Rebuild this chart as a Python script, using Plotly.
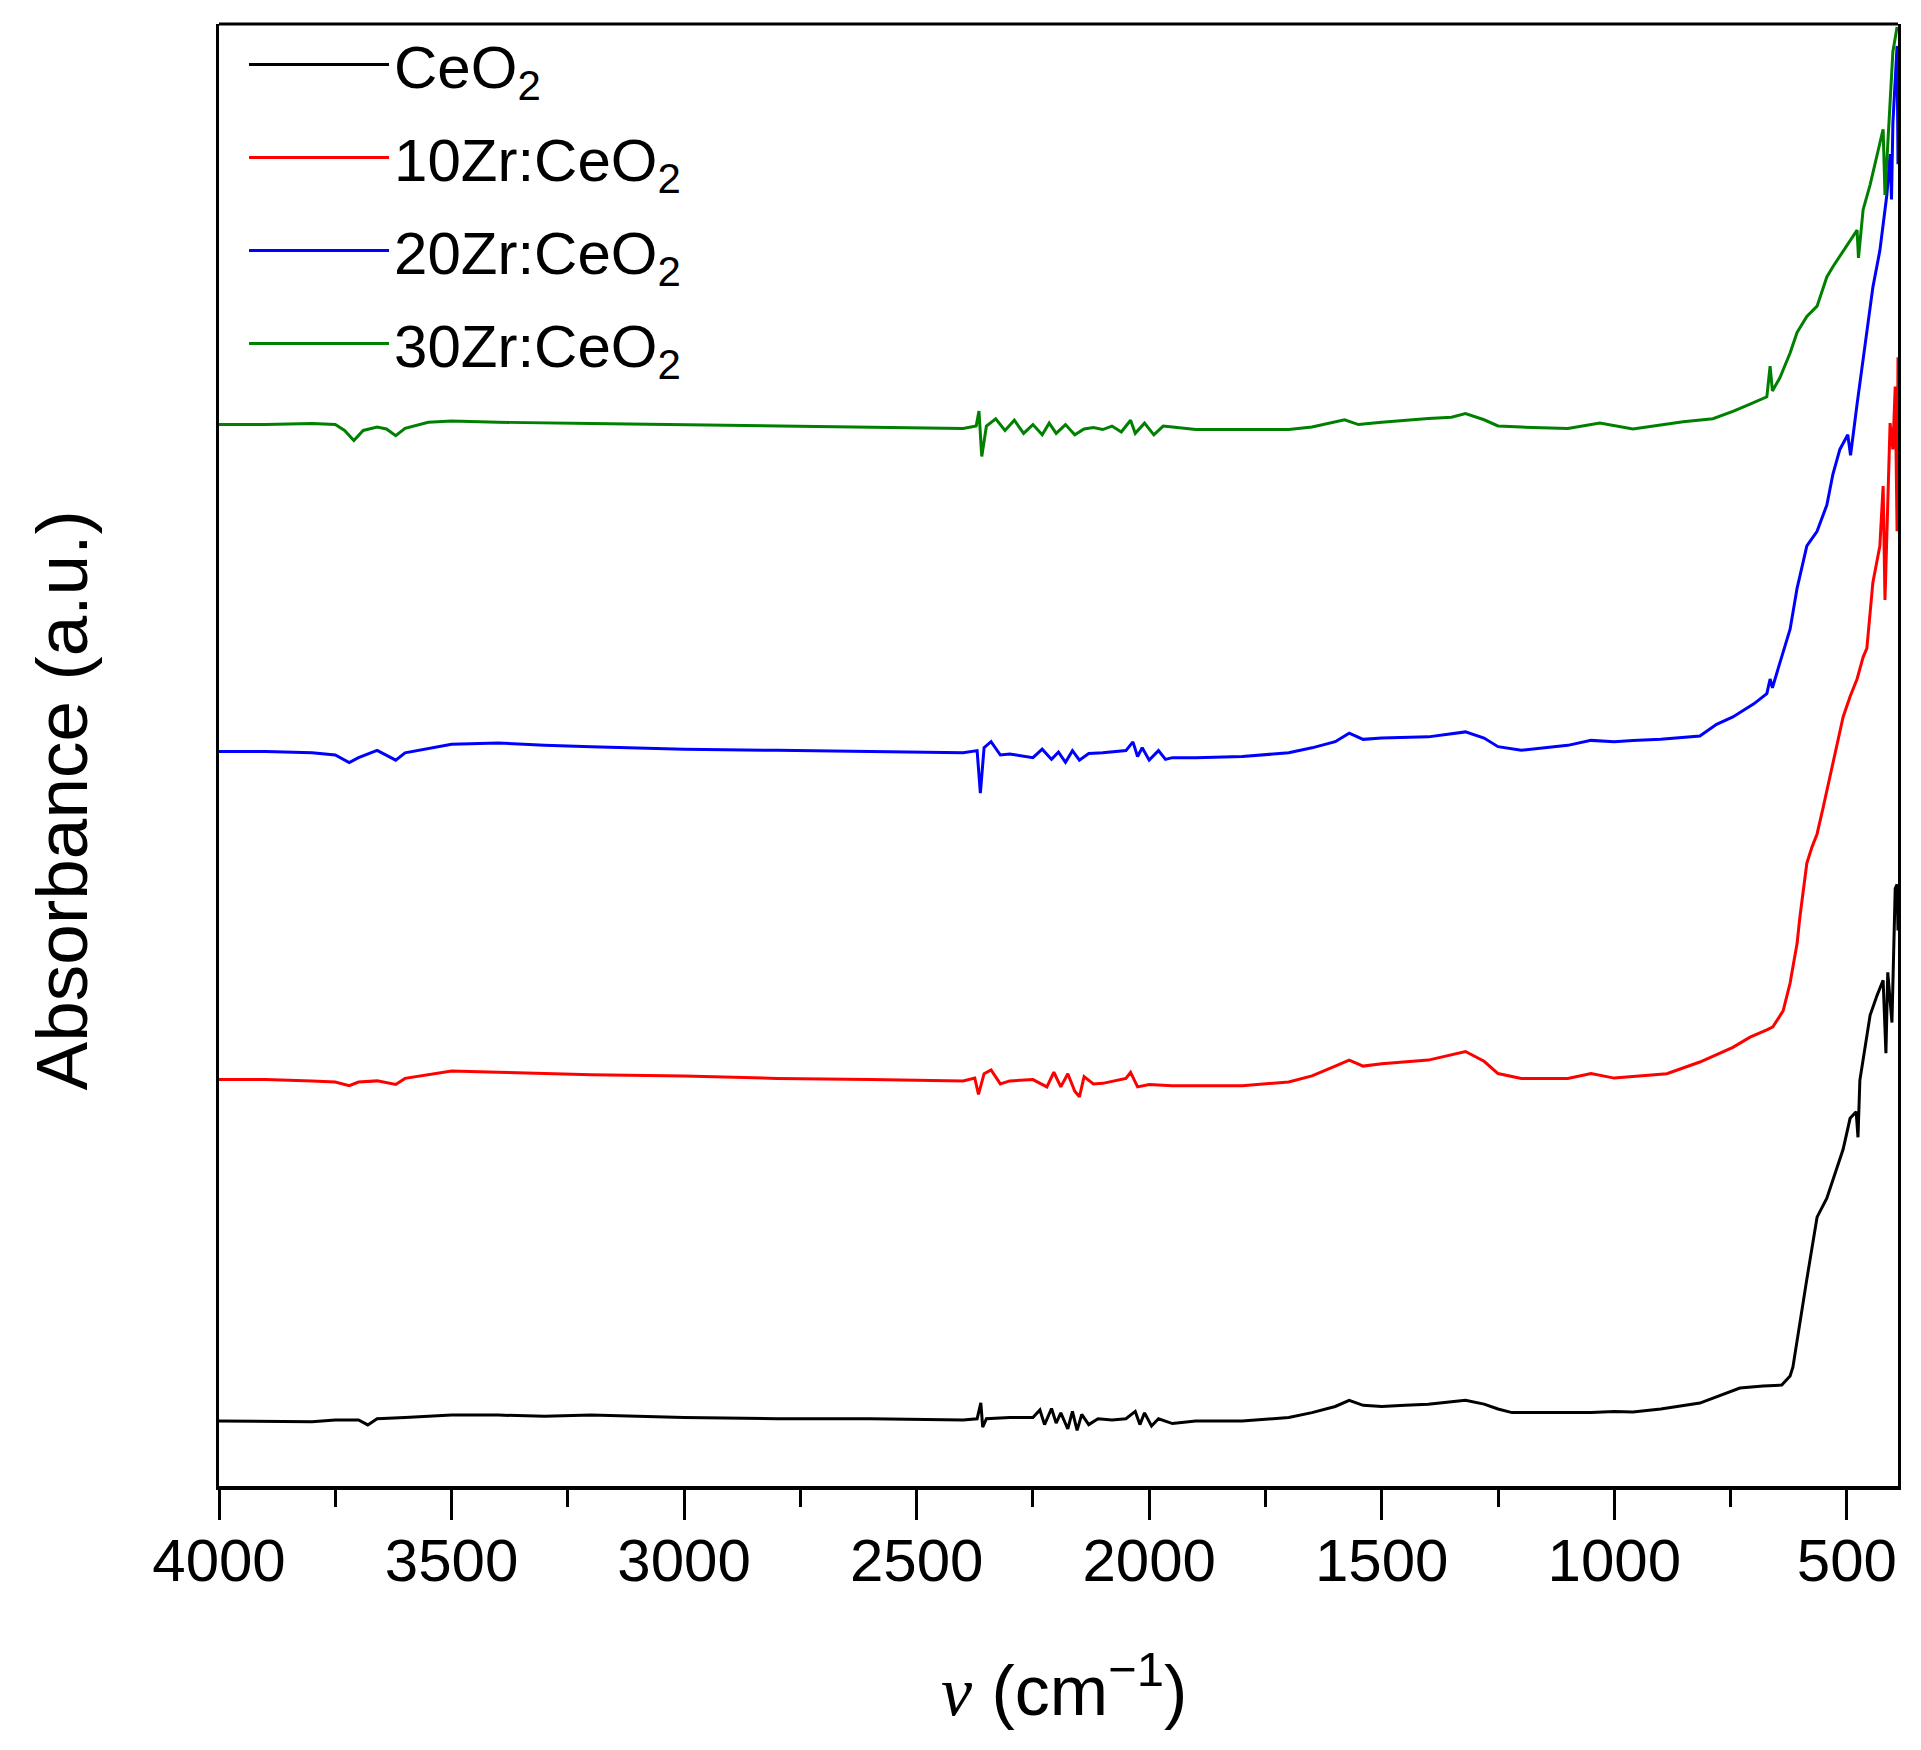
import plotly.graph_objects as go

# ---------------- data (wavenumber cm^-1, absorbance a.u.) ----------------
wn_ceo2 = [4000, 3900, 3800, 3750, 3700, 3680, 3660, 3600, 3500, 3400, 3300, 3200, 3100, 3000,
           2800, 2600, 2400, 2370, 2362, 2358, 2350, 2300, 2250, 2235, 2225, 2210, 2200, 2190,
           2175, 2165, 2155, 2145, 2130, 2110, 2080, 2050, 2030, 2020, 2010, 1995, 1980, 1950,
           1900, 1800, 1700, 1650, 1600, 1570, 1540, 1500, 1450, 1400, 1350, 1320, 1280, 1250,
           1220, 1150, 1050, 1000, 960, 900, 816, 730, 680, 640, 622, 616, 601, 586, 575, 564,
           543, 530, 508, 493, 480, 476, 472, 450, 435, 422, 416, 412, 403, 396, 392, 390]
abs_ceo2 = [4.44, 4.44, 4.40, 4.52, 4.52, 4.18, 4.60, 4.69, 4.85, 4.85, 4.77, 4.85, 4.77, 4.69,
            4.60, 4.60, 4.52, 4.60, 5.69, 4.02, 4.60, 4.69, 4.69, 5.20, 4.20, 5.30, 4.30, 5.00,
            3.90, 5.10, 3.80, 4.90, 4.20, 4.60, 4.52, 4.60, 5.10, 4.20, 5.00, 4.10, 4.60, 4.27,
            4.44, 4.44, 4.69, 5.02, 5.44, 5.86, 5.52, 5.44, 5.52, 5.60, 5.77, 5.86, 5.60, 5.27,
            5.02, 5.02, 5.02, 5.10, 5.06, 5.27, 5.67, 6.70, 6.84, 6.90, 7.52, 8.13, 11.28, 14.15,
            16.27, 18.39, 19.69, 20.98, 23.03, 25.15, 25.60, 23.85, 27.75, 32.19, 33.56, 34.59,
            29.60, 35.13, 31.70, 40.87, 41.15, 38.00]

wn_10zr = [4000, 3900, 3800, 3750, 3720, 3700, 3660, 3620, 3600, 3500, 3400, 3200, 3000, 2800,
           2600, 2400, 2375, 2367, 2355, 2340, 2320, 2300, 2250, 2220, 2205, 2190, 2175, 2160,
           2150, 2140, 2120, 2100, 2050, 2040, 2025, 2000, 1950, 1800, 1700, 1650, 1600, 1570,
           1540, 1500, 1400, 1320, 1280, 1250, 1200, 1100, 1050, 1000, 887, 816, 745, 708, 672,
           659, 637, 622, 616, 607, 601, 594, 586, 575, 564, 551, 536, 521, 508, 493, 478, 465,
           457, 444, 429, 422, 418, 407, 401, 396, 392, 390]
abs_10zr = [27.80, 27.80, 27.71, 27.63, 27.38, 27.63, 27.71, 27.46, 27.88, 28.38, 28.30, 28.13,
            28.05, 27.88, 27.80, 27.71, 27.90, 26.79, 28.20, 28.46, 27.50, 27.71, 27.80, 27.30,
            28.30, 27.30, 28.20, 27.00, 26.62, 28.00, 27.50, 27.54, 27.88, 28.30, 27.30, 27.46,
            27.38, 27.38, 27.63, 28.05, 28.72, 29.13, 28.72, 28.88, 29.13, 29.72, 29.05, 28.21,
            27.88, 27.88, 28.21, 27.90, 28.20, 29.00, 30.00, 30.70, 31.20, 31.40, 32.50, 34.40,
            35.50, 37.10, 38.90, 40.70, 42.60, 43.70, 44.60, 46.40, 48.50, 50.80, 52.60, 54.00,
            55.20, 56.70, 57.30, 61.80, 64.30, 68.40, 60.60, 72.70, 70.90, 75.20, 65.30, 77.20]

wn_20zr = [4000, 3900, 3800, 3750, 3720, 3700, 3660, 3620, 3600, 3500, 3400, 3300, 3200, 3000,
           2800, 2600, 2400, 2370, 2363, 2355, 2340, 2320, 2300, 2250, 2230, 2210, 2195, 2180,
           2165, 2150, 2130, 2100, 2050, 2035, 2025, 2015, 2000, 1980, 1965, 1950, 1900, 1800,
           1700, 1650, 1600, 1570, 1540, 1500, 1400, 1320, 1280, 1250, 1200, 1100, 1050, 1000,
           960, 900, 816, 780, 745, 700, 672, 665, 660, 644, 622, 607, 586, 564, 543, 530, 515,
           498, 492, 478, 465, 457, 444, 429, 414, 407, 404, 401, 392, 390]
abs_20zr = [50.24, 50.24, 50.15, 50.00, 49.48, 49.82, 50.32, 49.65, 50.15, 50.74, 50.82, 50.66,
            50.57, 50.40, 50.32, 50.24, 50.15, 50.30, 47.39, 50.50, 50.91, 50.00, 50.07, 49.82,
            50.40, 49.70, 50.20, 49.50, 50.30, 49.65, 50.10, 50.15, 50.30, 50.90, 49.90, 50.50,
            49.65, 50.30, 49.70, 49.82, 49.82, 49.90, 50.15, 50.49, 50.91, 51.49, 51.07, 51.16,
            51.24, 51.58, 51.16, 50.57, 50.32, 50.66, 51.00, 50.91, 51.00, 51.07, 51.30, 52.10,
            52.60, 53.50, 54.20, 55.20, 54.60, 56.30, 58.60, 61.40, 64.30, 65.30, 67.10, 69.20,
            70.90, 71.90, 70.50, 74.00, 77.20, 78.90, 82.00, 84.50, 88.30, 91.10, 88.00, 93.20,
            98.50, 90.40]

wn_30zr = [4000, 3900, 3800, 3750, 3730, 3710, 3690, 3660, 3640, 3620, 3600, 3550, 3500, 3400,
           3200, 3000, 2800, 2600, 2400, 2372, 2366, 2360, 2350, 2330, 2310, 2290, 2270, 2250,
           2230, 2215, 2200, 2180, 2160, 2140, 2120, 2100, 2080, 2060, 2040, 2030, 2010, 1990,
           1970, 1950, 1900, 1800, 1700, 1650, 1600, 1580, 1550, 1500, 1400, 1350, 1320, 1280,
           1250, 1200, 1100, 1031, 960, 900, 852, 788, 745, 708, 672, 665, 660, 644, 622, 607,
           586, 564, 543, 530, 500, 478, 475, 465, 450, 435, 422, 418, 407, 401, 392]
abs_30zr = [72.60, 72.60, 72.68, 72.60, 72.20, 71.51, 72.20, 72.43, 72.30, 71.84, 72.34, 72.76,
            72.85, 72.76, 72.68, 72.60, 72.51, 72.43, 72.34, 72.50, 73.52, 70.42, 72.50, 73.00,
            72.20, 72.90, 72.00, 72.60, 71.90, 72.70, 72.00, 72.60, 71.90, 72.30, 72.40, 72.26,
            72.50, 72.10, 72.90, 72.00, 72.70, 71.90, 72.50, 72.43, 72.26, 72.26, 72.26, 72.43,
            72.76, 72.93, 72.60, 72.76, 73.01, 73.10, 73.35, 72.93, 72.51, 72.43, 72.34, 72.70,
            72.30, 72.60, 72.80, 73.00, 73.50, 74.00, 74.50, 76.60, 74.90, 75.80, 77.50, 78.90,
            80.00, 80.70, 82.70, 83.40, 84.80, 85.90, 84.00, 87.30, 89.00, 91.10, 92.80, 88.30,
            94.60, 98.10, 99.80]

series_names = ["CeO<sub>2</sub>", "10Zr:CeO<sub>2</sub>", "20Zr:CeO<sub>2</sub>", "30Zr:CeO<sub>2</sub>"]
series_colors = ["#000000", "#FF0000", "#0000FF", "#008000"]
x_ticks = [4000, 3500, 3000, 2500, 2000, 1500, 1000, 500]
x_minor = [3750, 3250, 2750, 2250, 1750, 1250, 750]

FONT = "Liberation Sans, Arial, sans-serif"

fig = go.Figure()
for i, (wn, ab, name, col) in enumerate(zip([wn_ceo2, wn_10zr, wn_20zr, wn_30zr],
                                            [abs_ceo2, abs_10zr, abs_20zr, abs_30zr],
                                            series_names, series_colors)):
    fig.add_trace(go.Scatter(x=wn, y=ab, mode="lines", name=name, legendgroup=f"g{i}",
                             line=dict(color=col, width=3)))

fig.update_layout(
    width=1913, height=1742,
    margin=dict(l=211, r=23, t=15, b=264),
    paper_bgcolor="white", plot_bgcolor="white",
    font=dict(family=FONT, color="black"),
    showlegend=True,
    legend=dict(x=0.0149, y=1.0028, xanchor="left", yanchor="top",
                font=dict(size=60, family=FONT, color="black"),
                bgcolor="rgba(0,0,0,0)", itemwidth=140, tracegroupgap=12),
    xaxis=dict(range=[4000, 390], tickmode="array", tickvals=x_ticks,
               ticktext=[str(t) for t in x_ticks],
               showgrid=False, zeroline=False,
               showline=True, linecolor="black", linewidth=4,
               ticks="outside", ticklen=30, tickwidth=3, tickcolor="black",
               ticklabelstandoff=-11,
               tickfont=dict(size=60, family=FONT, color="black"),
               minor=dict(tickvals=x_minor,
                          ticks="outside", ticklen=17, tickwidth=3, tickcolor="black")),
    yaxis=dict(range=[0, 100], showticklabels=False, ticks="",
               showgrid=False, zeroline=False,
               showline=True, linecolor="black", linewidth=3, mirror=True),
)

# top frame edge
fig.add_shape(type="line", xref="paper", yref="paper", x0=0, x1=1, y0=1, y1=1,
              line=dict(color="black", width=3))

# axis titles
fig.add_annotation(xref="paper", yref="paper", x=0.503, y=-0.137, yanchor="middle",
                   text="<span style='font-family:Liberation Serif, Times New Roman, serif'><i>ν</i></span> (cm<sup>−1</sup>)",
                   showarrow=False,
                   font=dict(size=70, family=FONT, color="black"))
fig.add_annotation(xref="paper", yref="paper", x=-0.094, y=0.469, xanchor="center",
                   yanchor="middle",
                   text="Absorbance (a.u.)", textangle=-90, showarrow=False,
                   font=dict(size=73, family=FONT, color="black"))

fig.write_html("out.html")
